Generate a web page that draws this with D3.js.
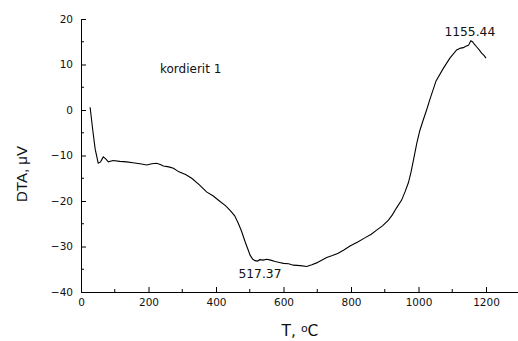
<!DOCTYPE html>
<html>
<head>
<meta charset="utf-8">
<script src="https://cdn.jsdelivr.net/npm/d3@7"></script>
<style>
  body { margin: 0; background: #fff; }
  text { font-family: "DejaVu Sans", sans-serif; fill: #111; }
</style>
</head>
<body>
<div id="chart"></div>
<script>
const width = 518;
const height = 341;

// DTA curve: temperature (°C) and signal (µV)
const temps = [27, 35, 42, 51, 58, 66, 74, 81, 95, 115, 135, 154, 175, 195, 210, 224, 235, 244, 260, 274,
    290, 310, 328, 350, 372, 392, 412, 428, 441, 455, 466, 476, 486, 494, 501, 509, 516, 523, 530, 540, 550,
    562, 575, 588, 600, 615, 629, 650, 669, 684, 698, 713, 728, 745, 762, 780, 797, 820, 841, 860, 876, 894,
    911, 923, 935, 950, 960, 970, 978, 985, 995, 1004, 1014, 1024, 1034, 1052, 1074, 1093, 1113, 1125, 1133,
    1140, 1148, 1155, 1160, 1166, 1172, 1180, 1187, 1194, 1200];
const dta = [0.6, -4.5, -8.6, -11.7, -11.4, -10.3, -10.8, -11.4, -11.1, -11.3, -11.4, -11.6, -11.8, -12.1,
    -11.8, -11.7, -12.0, -12.3, -12.5, -12.8, -13.6, -14.2, -15.0, -16.4, -18.0, -18.9, -20.1, -21.0, -22.0,
    -23.2, -24.9, -26.7, -28.9, -30.5, -31.9, -32.8, -33.1, -33.2, -32.9, -33.0, -32.8, -33.0, -33.3, -33.5,
    -33.7, -33.8, -34.1, -34.2, -34.4, -34.0, -33.6, -33.0, -32.4, -32.0, -31.5, -30.7, -29.9, -29.0, -28.1,
    -27.3, -26.4, -25.4, -24.2, -23.0, -21.5, -19.8, -18.0, -16.0, -13.6, -11.0, -7.3, -4.5, -2.2, 0.0, 2.4,
    6.4, 9.2, 11.4, 13.2, 13.6, 13.7, 14.0, 14.2, 15.2, 15.0, 14.4, 13.9, 13.2, 12.5, 12.0, 11.4];

const xTicks = [0, 200, 400, 600, 800, 1000, 1200];
const xMinor = [100, 300, 500, 700, 900, 1100];
const yTicks = [-40, -30, -20, -10, 0, 10, 20];
const yMinor = [-35, -25, -15, -5, 5, 15];

// peak annotations
const peaks = [
    { label: "517.37", t: 517, v: -33.1, dx: 4.5, dy: 17.5 },
    { label: "1155.44", t: 1155, v: 15.2, dx: -1, dy: -5 }
];

const margin = { left: 81, top: 19, bottom: 49 };

const svg = d3.select("#chart")
    .append("svg")
    .attr("width", width)
    .attr("height", height);

const x = d3.scaleLinear().domain([0, 1300]).range([margin.left, 519.75]);
const y = d3.scaleLinear().domain([-40, 20]).range([height - margin.bottom, margin.top]);

// x axis, ticks pointing inward
const xAxis = svg.append("g")
    .attr("transform", `translate(0,${y(-40)})`)
    .call(d3.axisBottom(x).tickValues(xTicks).tickFormat(d3.format("d"))
        .tickSize(-5).tickPadding(7).tickSizeOuter(0));
xAxis.append("g")
    .selectAll("line")
    .data(xMinor)
    .join("line")
    .attr("x1", d => x(d)).attr("x2", d => x(d))
    .attr("y1", 0).attr("y2", -3)
    .attr("stroke", "#000");

// y axis
const yAxis = svg.append("g")
    .attr("transform", `translate(${x(0)},0)`)
    .call(d3.axisLeft(y).tickValues(yTicks).tickSize(-5).tickPadding(8).tickSizeOuter(0));
yAxis.append("g")
    .selectAll("line")
    .data(yMinor)
    .join("line")
    .attr("x1", 0).attr("x2", 3)
    .attr("y1", d => y(d)).attr("y2", d => y(d))
    .attr("stroke", "#000");

[xAxis, yAxis].forEach(a => {
    a.selectAll("text")
        .style("font-size", "10.5px")
        .style("font-family", "DejaVu Sans, sans-serif")
        .attr("fill", "#111");
    a.select(".domain").attr("stroke", "#000");
});

// curve
const pts = temps.map((t, i) => [t, dta[i]]);
svg.append("path")
    .datum(pts)
    .attr("fill", "none")
    .attr("stroke", "#000")
    .attr("stroke-width", 1.1)
    .attr("d", d3.line().x(d => x(d[0])).y(d => y(d[1])));

// labels
svg.append("text")
    .attr("x", 160).attr("y", 73)
    .style("font-size", "12px")
    .text("kordierit 1");

svg.selectAll(".peak")
    .data(peaks)
    .join("text")
    .attr("class", "peak")
    .attr("x", d => x(d.t) + d.dx)
    .attr("y", d => y(d.v) + d.dy)
    .attr("text-anchor", "middle")
    .style("font-size", "12.3px")
    .text(d => d.label);

const xt = svg.append("text")
    .attr("x", 300).attr("y", 336)
    .attr("text-anchor", "middle")
    .style("font-size", "15.5px");
xt.append("tspan").text("T, ");
xt.append("tspan").attr("dy", -4).style("font-size", "11px").text("o");
xt.append("tspan").attr("dy", 4).text("C");

svg.append("text")
    .attr("transform", "translate(27,174) rotate(-90)")
    .attr("text-anchor", "middle")
    .style("font-family", "Liberation Sans, Arial, sans-serif")
    .style("font-size", "15px")
    .text("DTA, \u03bcV");
</script>
</body>
</html>
